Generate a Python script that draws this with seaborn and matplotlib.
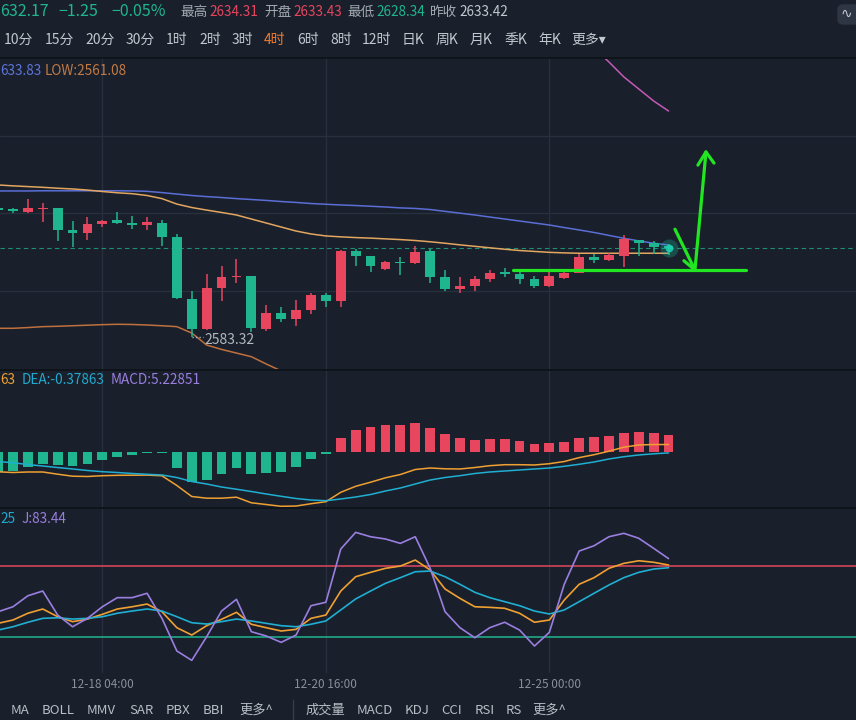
import numpy as np
import pandas as pd
import seaborn as sns
import matplotlib.pyplot as plt
from matplotlib.lines import Line2D
from matplotlib.patches import FancyBboxPatch

# 4h candles, oldest first (first one is cut by the left edge)
open_ = [2654.1, 2653.4, 2651.9, 2653.6, 2654.0, 2642.1, 2640.6, 2645.3, 2647.5, 2646.1,
         2644.6, 2645.7, 2638.4, 2604.2, 2587.6, 2610.1, 2616.3, 2616.8, 2587.7, 2596.3,
         2593.2, 2598.2, 2606.4, 2603.3, 2630.5, 2627.8, 2620.5, 2624.5, 2624.1, 2630.5,
         2616.1, 2609.7, 2611.3, 2615.0, 2618.6, 2617.9, 2615.0, 2611.3, 2615.5, 2618.6,
         2627.1, 2625.6, 2627.8, 2636.6, 2635.1, 2633.43]
high = [2654.7, 2654.2, 2658.9, 2657.0, 2654.3, 2647.2, 2649.0, 2647.5, 2651.8, 2649.7,
        2649.4, 2647.5, 2639.7, 2608.8, 2617.9, 2622.3, 2626.0, 2617.0, 2600.9, 2600.0,
        2603.7, 2607.6, 2607.6, 2631.1, 2631.6, 2628.0, 2625.0, 2627.1, 2633.3, 2631.6,
        2620.1, 2616.1, 2616.8, 2620.1, 2621.4, 2619.2, 2616.8, 2619.2, 2620.1, 2628.9,
        2628.9, 2629.6, 2639.3, 2636.8, 2636.2, 2634.31]
low = [2652.8, 2651.4, 2651.5, 2646.6, 2636.2, 2632.9, 2636.6, 2643.5, 2645.3, 2642.8,
       2642.1, 2633.3, 2604.2, 2583.32, 2587.2, 2603.3, 2613.1, 2586.2, 2586.8, 2591.7,
       2589.5, 2595.8, 2600.0, 2600.0, 2622.3, 2619.2, 2620.3, 2617.3, 2623.4, 2613.1,
       2608.8, 2607.6, 2608.8, 2613.7, 2616.1, 2612.4, 2610.1, 2611.0, 2615.0, 2618.4,
       2623.8, 2625.2, 2621.9, 2627.8, 2628.9, 2628.34]
close = [2653.3, 2652.3, 2654.0, 2654.3, 2642.1, 2640.6, 2645.3, 2647.2, 2645.7, 2644.9,
         2646.6, 2638.4, 2604.6, 2587.6, 2610.1, 2616.1, 2617.0, 2588.4, 2596.3, 2593.2,
         2598.2, 2606.4, 2603.3, 2630.5, 2627.8, 2622.5, 2624.3, 2623.8, 2630.1, 2616.4,
         2609.7, 2611.3, 2615.0, 2618.6, 2618.1, 2615.0, 2611.3, 2616.8, 2618.6, 2627.1,
         2625.6, 2628.3, 2637.0, 2635.1, 2632.9, 2632.17]

# overlay lines on the price pane
boll_mid = [2663.5, 2663.5, 2663.5, 2663.6, 2663.6, 2663.6, 2663.6, 2663.6, 2663.6, 2663.5,
            2663.3, 2662.6, 2661.8, 2661.0, 2660.4, 2659.9, 2659.3, 2658.8, 2658.3, 2657.7,
            2657.2, 2656.6, 2656.2, 2655.8, 2655.5, 2655.1, 2654.7, 2654.2, 2653.9, 2653.3,
            2652.3, 2651.3, 2650.3, 2649.2, 2648.1, 2647.0, 2645.9, 2644.8, 2643.4, 2642.1,
            2640.7, 2639.1, 2637.5, 2636.1, 2634.8, 2633.83]
boll_low = [2588.1, 2588.1, 2588.5, 2589.0, 2589.2, 2589.5, 2589.8, 2590.1, 2590.3, 2590.2,
            2589.9, 2589.5, 2589.0, 2585.5, 2578.9, 2576.5, 2574.5, 2572.5, 2568.5, 2564.7,
            2561.0, 2558.0, 2556.0, 2555.0, 2553.0, 2552.0, 2551.5, 2551.0, 2550.5, 2550.0,
            2549.5, 2549.0, 2548.5, 2548.0, 2547.5, 2547.0, 2546.5, 2546.0, 2545.5, 2545.0,
            2544.5, 2543.9, 2548.9, 2552.7, 2556.7, 2561.08]
boll_up = [2760, 2760, 2760, 2761, 2761, 2761, 2761, 2761, 2761, 2761,
           2761, 2761, 2762, 2762, 2762, 2762, 2762, 2762, 2762, 2762,
           2762, 2761, 2760, 2759, 2758, 2757, 2756, 2755, 2754, 2753,
           2752, 2751, 2750, 2749, 2748, 2747, 2746, 2745, 2744, 2743,
           2742.0, 2734.3, 2726.1, 2719.5, 2712.9, 2707.4]
ma_line = [2666.8, 2666.3, 2665.9, 2665.5, 2665.0, 2664.6, 2664.0, 2663.2, 2662.5, 2662.0,
           2661.0, 2659.3, 2656.3, 2654.4, 2653.0, 2651.7, 2650.3, 2648.1, 2645.9, 2643.7,
           2641.5, 2639.9, 2638.8, 2638.3, 2637.9, 2637.6, 2637.2, 2636.8, 2636.3, 2635.6,
           2634.8, 2633.9, 2633.1, 2632.3, 2631.5, 2630.8, 2630.3, 2629.8, 2629.5, 2629.3,
           2629.3, 2629.3, 2629.3, 2629.3, 2629.3, 2629.3]

# MACD pane
macd_hist = [-6.45, -6.04, -4.70, -3.76, -4.16, -4.48, -3.76, -2.50, -1.75, -1.03,
             -0.50, -0.50, -5.01, -9.39, -8.86, -6.98, -5.01, -7.07, -6.57, -6.26,
             -4.70, -2.28, -0.63, 4.19, 6.70, 7.73, 8.26, 8.45, 9.08, 7.51,
             5.45, 4.19, 3.76, 3.98, 3.98, 3.35, 2.50, 2.72, 3.04, 4.19,
             4.60, 4.91, 5.95, 6.26, 5.85, 5.22851]
dif = [-6.29, -6.51, -6.35, -6.35, -7.04, -7.67, -7.76, -7.51, -7.39, -7.36,
       -7.32, -7.54, -10.58, -14.02, -14.55, -14.55, -14.24, -15.99, -16.53, -17.09,
       -17.00, -16.28, -15.65, -12.71, -10.83, -9.55, -8.17, -7.14, -5.57, -5.10,
       -5.35, -5.41, -4.95, -4.38, -4.07, -4.07, -4.16, -3.76, -3.07, -1.85,
       -0.94, 0.16, 1.41, 2.10, 2.25, 2.24]
dea = [-3.07, -3.47, -4.01, -4.48, -4.95, -5.41, -5.88, -6.26, -6.51, -6.82,
       -7.07, -7.29, -8.08, -9.33, -10.11, -11.05, -11.74, -12.46, -13.24, -13.96,
       -14.65, -15.12, -15.34, -14.80, -14.18, -13.40, -12.30, -11.36, -10.11, -8.86,
       -8.08, -7.51, -6.82, -6.35, -6.04, -5.73, -5.41, -5.10, -4.57, -3.94,
       -3.22, -2.28, -1.57, -1.03, -0.66, -0.38]

# KDJ pane
k_line = [31.3, 34.1, 39.8, 43.4, 36.9, 32.7, 34.9, 38.9, 43.4, 45.3,
          47.6, 41.1, 27.6, 21.4, 29.3, 34.7, 40.6, 30.5, 27.6, 24.8,
          26.2, 35.5, 38.3, 58.6, 70.7, 74.4, 77.8, 79.7, 84.8, 76.4,
          60.3, 52.4, 45.3, 44.8, 44.0, 39.8, 32.2, 34.1, 51.0, 64.3,
          69.9, 77.8, 82.0, 84.2, 82.9, 80.6]
d_line = [25.6, 28.4, 32.2, 35.5, 36.0, 34.9, 35.5, 36.9, 39.8, 41.7,
          43.4, 41.7, 36.9, 31.8, 30.7, 32.7, 34.9, 33.3, 31.3, 29.3,
          28.4, 30.5, 33.3, 42.6, 51.9, 58.6, 65.1, 69.9, 74.9, 75.5,
          70.7, 64.3, 57.5, 53.0, 49.6, 46.2, 41.7, 39.2, 42.6, 49.6,
          56.7, 63.7, 69.9, 74.4, 77.2, 78.3]
j_line = [41.1, 45.3, 54.6, 58.6, 38.3, 28.4, 35.5, 45.3, 53.0, 53.0,
          56.7, 35.5, 7.9, 0.0, 20.0, 41.7, 51.6, 24.2, 20.6, 15.2,
          21.4, 46.2, 49.1, 94.1, 108.2, 104.5, 102.6, 98.9, 104.5, 77.8,
          41.1, 27.6, 19.1, 27.6, 32.2, 25.6, 12.1, 23.7, 64.3, 92.4,
          96.9, 104.5, 107.4, 103.2, 94.7, 86.0]

time_labels = ['12-18 04:00', '12-20 16:00', '12-25 00:00']
time_label_pos = [7, 22, 37]

# hand-drawn markup (candle index, price)
level_x = [34.56, 50.19]
level_y = [2620.1, 2620.1]
swing_x = [45.43, 46.77, 47.51]
swing_y = [2642.5, 2620.1, 2684.9]
barb_x = [46.03, 46.77]
barb_y = [2625.2, 2620.1]
head_x = [46.97, 47.51, 48.05]
head_y = [2677.7, 2684.9, 2678.8]

bg = '#19202b'
grid_c = '#283040'
up_c = '#e8455e'
down_c = '#1fb58f'

sns.set_theme(style='dark', rc={'axes.facecolor': bg, 'figure.facecolor': bg,
                                'patch.edgecolor': 'none'})
plt.rcParams['font.family'] = ['Noto Sans CJK SC', 'DejaVu Sans']

W, H = 856, 720
fig = plt.figure(figsize=(W / 100, H / 100), dpi=100)


def pane(top, bottom):
    a = fig.add_axes([0, 1 - bottom / H, 1, (bottom - top) / H])
    a.set_facecolor(bg)
    for s in a.spines.values():
        s.set_visible(False)
    a.set_xlim(0.13, 57.58)
    for xv in time_label_pos:
        a.axvline(xv, color=grid_c, lw=0.9, zorder=0)
    return a


ax = pane(58, 370)
ax_macd = pane(370, 508)
ax_kdj = pane(508, 673)

n = len(close)
df = pd.DataFrame({'i': np.arange(n), 'open': open_, 'high': high, 'low': low, 'close': close,
                   'mid': boll_mid, 'lowb': boll_low, 'upb': boll_up, 'ma': ma_line,
                   'hist': macd_hist, 'dif': dif, 'dea': dea,
                   'K': k_line, 'D': d_line, 'J': j_line})

# ---- price pane
ax.set_ylim(2565.2, 2736.5)
for yv in [2693.7, 2651.4, 2608.6]:
    ax.axhline(yv, color=grid_c, lw=0.9, zorder=0)
ax.axhline(close[-1], color=down_c, lw=0.8, ls=(0, (4, 3)), alpha=0.75, zorder=1)

for _, r in df.iterrows():
    c = up_c if r['close'] > r['open'] else down_c
    ax.vlines(r['i'], r['low'], r['high'], color=c, lw=1.1, zorder=3)
    h = max(abs(r['close'] - r['open']), 0.7)
    ax.bar(r['i'], h, bottom=min(r['open'], r['close']), width=0.66, color=c,
           edgecolor=c, linewidth=0, zorder=3)

sns.lineplot(data=df, x='i', y='mid', ax=ax, color='#5a6ed6', lw=1.1, legend=False, zorder=2)
sns.lineplot(data=df, x='i', y='ma', ax=ax, color='#e3a660', lw=1.1, legend=False, zorder=2)
sns.lineplot(data=df, x='i', y='lowb', ax=ax, color='#c0703f', lw=1.1, legend=False, zorder=2)
sns.lineplot(data=df, x='i', y='upb', ax=ax, color='#c45ab8', lw=1.1, legend=False, zorder=2)

ax.scatter([n - 1], [close[-1]], s=170, color='#1fd0b0', alpha=0.25, zorder=4, lw=0)
ax.scatter([n - 1], [close[-1]], s=30, color='#1fd0b0', alpha=0.9, zorder=5, lw=0)

lo_i = int(np.argmin(low))
ax.plot([lo_i, lo_i + 0.75], [low[lo_i], low[lo_i]], color='#b0b4bc', lw=1, ls=(0, (1, 1.5)))
ax.text(lo_i + 0.85, low[lo_i] - 1.5, f'{low[lo_i]:.2f}', color='#b4b8c0', fontsize=10,
        va='center', ha='left')

green = '#22e622'
ax.plot(level_x, level_y, color=green, lw=2.3, solid_capstyle='round', zorder=6)
ax.plot(swing_x, swing_y, color=green, lw=2.3, solid_capstyle='round', solid_joinstyle='miter', zorder=6)
ax.plot(barb_x, barb_y, color=green, lw=2.3, solid_capstyle='round', zorder=6)
ax.plot(head_x, head_y, color=green, lw=2.3, solid_capstyle='round', zorder=6)

# ---- MACD pane
ax_macd.set_ylim(-17.62, 25.57)
ax_macd.bar(df['i'], df['hist'], width=0.66, linewidth=0,
            color=[up_c if v > 0 else down_c for v in macd_hist], zorder=2)
sns.lineplot(data=df, x='i', y='dif', ax=ax_macd, color='#f0a032', lw=1.1, legend=False, zorder=3)
sns.lineplot(data=df, x='i', y='dea', ax=ax_macd, color='#20aed2', lw=1.1, legend=False, zorder=3)

# ---- KDJ pane
ax_kdj.set_ylim(-10.7, 128.8)
ax_kdj.axhline(80, color='#e0485d', lw=1.1, zorder=1)
ax_kdj.axhline(20, color='#1fb58f', lw=1.1, zorder=1)
sns.lineplot(data=df, x='i', y='K', ax=ax_kdj, color='#f0a032', lw=1.2, legend=False, zorder=3)
sns.lineplot(data=df, x='i', y='D', ax=ax_kdj, color='#20aed2', lw=1.2, legend=False, zorder=3)
sns.lineplot(data=df, x='i', y='J', ax=ax_kdj, color='#9a7ee0', lw=1.2, legend=False, zorder=3)

for a in (ax, ax_macd, ax_kdj):
    a.set_xticks([])
    a.set_yticks([])
    a.set_xlabel('')
    a.set_ylabel('')

# pane separators
for yv in (58, 370, 508):
    fig.add_artist(Line2D([0, 1], [1 - yv / H] * 2, color='#0f141b', lw=1.4))
fig.add_artist(Line2D([293 / W] * 2, [0, 1 - 700 / H], color='#353d4b', lw=1))


def t(x, y, s, color, size=9.5, ha='left'):
    fig.text(x / W, 1 - y / H, s, color=color, fontsize=size, ha=ha, va='center')


# header
gray = '#a3a8b1'
t(0, 12, '632.17', down_c, 11.5)
t(58, 12, '\u22121.25', down_c, 11.5)
t(111, 12, '\u22120.05%', down_c, 11.5)
for x, lab, val, col in [(180, '最高', '2634.31', up_c), (264, '开盘', '2633.43', up_c),
                         (347, '最低', '2628.34', down_c), (430, '昨收', '2633.42', '#c3c7cf')]:
    t(x, 12, lab, gray, 9.8)
    t(x + 29, 12, val, col, 9.8)

periods = ['10分', '15分', '20分', '30分', '1时', '2时', '3时', '4时', '6时', '8时', '12时',
           '日K', '周K', '月K', '季K', '年K', '更多▾']
period_x = [4, 45, 85, 126, 166, 199, 232, 264, 297, 330, 362, 402, 436, 470, 504, 538, 571]
for x, p in zip(period_x, periods):
    t(x, 40, p, '#f07a2e' if p == '4时' else '#c3c7cf', 10)

fig.add_artist(FancyBboxPatch((838 / W, 1 - 24 / H), 22 / W, 19 / H,
                              boxstyle='round,pad=0,rounding_size=0.006',
                              transform=fig.transFigure, color='#2e3644'))
t(846, 14, '∿', '#c3c7cf', 10, 'center')

# legends
t(0, 71, '633.83', '#5f73da', 9.8)
t(45, 71, 'LOW:2561.08', '#c27a45', 9.8)
t(0, 380, '63', '#f0a032', 9.8)
t(22, 380, 'DEA:-0.37863', '#22a9cf', 9.8)
t(111, 380, 'MACD:5.22851', '#9a7ee0', 9.8)
t(0, 519, '25', '#22a9cf', 9.8)
t(21, 519, 'J:83.44', '#9a7ee0', 9.8)

# time axis labels
for lab, xi in zip(time_labels, time_label_pos):
    xp = ax.transData.transform((xi, 0))[0] / fig.dpi * 100
    t(xp, 685, lab, '#8a8f99', 8.5, 'center')

tools = ['MA', 'BOLL', 'MMV', 'SAR', 'PBX', 'BBI', '更多^', '成交量', 'MACD', 'KDJ', 'CCI', 'RSI', 'RS', '更多^']
tool_x = [20, 58, 101, 141, 178, 213, 256, 325, 375, 417, 452, 485, 514, 549]
for x, s in zip(tool_x, tools):
    t(x, 710, s, '#b9bdc6', 9.5, 'center')

fig.savefig('out.png', dpi=100, facecolor=bg)
